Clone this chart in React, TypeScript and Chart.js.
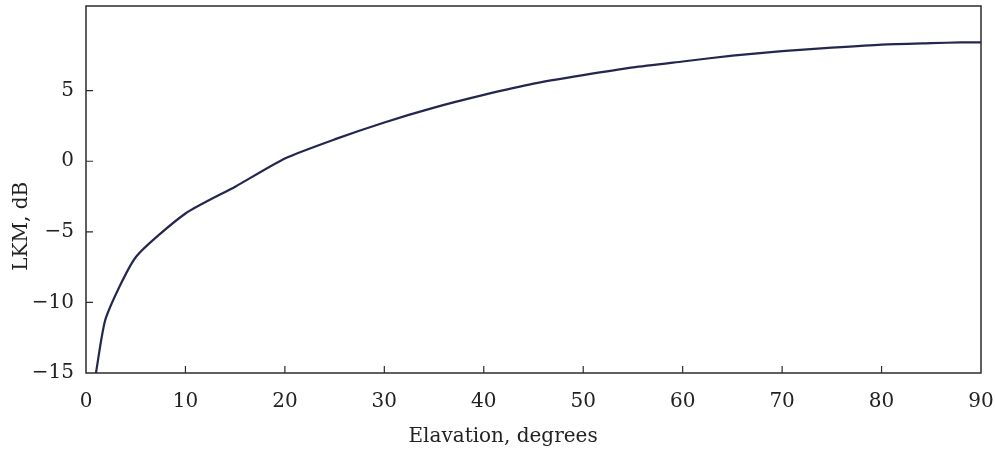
import React, { useEffect, useRef } from "react";
import { Chart, registerables } from "chart.js";

Chart.register(...registerables);

const elevation = [1, 2, 5, 10, 15, 20, 25, 30, 35, 40, 45, 50, 55, 60, 65, 70, 75, 80, 85, 88, 90];
const lkm = [-15, -11.1, -6.8, -3.7, -1.8, 0.2, 1.55, 2.75, 3.8, 4.7, 5.5, 6.1, 6.65, 7.07, 7.48, 7.8, 8.05, 8.27, 8.37, 8.42, 8.42];
const xTicks = [0, 10, 20, 30, 40, 50, 60, 70, 80, 90];
const yTicks = [-15, -10, -5, 0, 5];
const xTitle = "Elavation, degrees";
const yTitle = "LKM, dB";

const FONT = "'DejaVu Serif', 'Liberation Serif', serif";
const INK = "#2b2b2b";

const framePlugin = {
  id: "frame",
  afterDraw(chart: any) {
    const { ctx, chartArea: a, scales } = chart;
    ctx.save();
    ctx.strokeStyle = INK;
    ctx.lineWidth = 1.5;
    ctx.strokeRect(a.left, a.top, a.right - a.left, a.bottom - a.top);
    ctx.lineWidth = 1.2;
    ctx.beginPath();
    for (const v of xTicks) {
      const px = scales.x.getPixelForValue(v);
      if (px <= a.left + 1 || px >= a.right - 1) continue;
      ctx.moveTo(px, a.bottom);
      ctx.lineTo(px, a.bottom - 7);
    }
    for (const v of yTicks) {
      const py = scales.y.getPixelForValue(v);
      if (py >= a.bottom - 1 || py <= a.top + 1) continue;
      ctx.moveTo(a.left, py);
      ctx.lineTo(a.left + 7, py);
    }
    ctx.stroke();
    ctx.fillStyle = "#222";
    ctx.font = `20px ${FONT}`;
    ctx.textAlign = "center";
    ctx.textBaseline = "middle";
    ctx.fillText(xTitle, a.left + (a.right - a.left) * 0.466, 437);
    ctx.translate(22, a.top + (a.bottom - a.top) * 0.6);
    ctx.rotate(-Math.PI / 2);
    ctx.fillText(yTitle, 0, 0);
    ctx.restore();
  },
};

export default function App() {
  const ref = useRef<HTMLCanvasElement>(null);
  useEffect(() => {
    document.body.style.margin = "0";
    const canvas = ref.current!;
    const chart = new Chart(canvas, {
      type: "line",
      data: {
        datasets: [
          {
            data: elevation.map((x, i) => ({ x, y: lkm[i] })),
            borderColor: "#25264f",
            borderWidth: 2.2,
            pointRadius: 0,
            tension: 0.2,
            fill: false,
          },
        ],
      },
      options: {
        responsive: false,
        animation: false,
        events: [],
        layout: { padding: { top: 6, right: 14, left: 0, bottom: 0 } },
        plugins: { legend: { display: false }, tooltip: { enabled: false } },
        scales: {
          x: {
            type: "linear",
            min: 0,
            max: 90,
            afterBuildTicks: (s: any) => {
              s.ticks = xTicks.map((v) => ({ value: v }));
            },
            afterFit: (s: any) => {
              s.height = 85;
              s.paddingLeft = 0;
              s.paddingRight = 0;
            },
            grid: { display: false, drawTicks: false },
            border: { display: false },
            ticks: {
              padding: 17,
              color: "#222",
              font: { family: FONT, size: 20 },
              maxRotation: 0,
              autoSkip: false,
            },
          },
          y: {
            type: "linear",
            min: -15,
            max: 11,
            afterBuildTicks: (s: any) => {
              s.ticks = yTicks.map((v) => ({ value: v }));
            },
            afterFit: (s: any) => {
              s.width = 86;
              s.paddingTop = 0;
              s.paddingBottom = 0;
            },
            grid: { display: false, drawTicks: false },
            border: { display: false },
            ticks: {
              padding: 12,
              color: "#222",
              font: { family: FONT, size: 20 },
              callback: (v: any) => String(v).replace("-", "\u2212"),
            },
          },
        },
      },
      plugins: [framePlugin],
    });
    return () => chart.destroy();
  }, []);
  return (
    <div style={{ width: 995, height: 458 }}>
      <canvas ref={ref} width={995} height={458} style={{ display: "block" }} />
    </div>
  );
}
